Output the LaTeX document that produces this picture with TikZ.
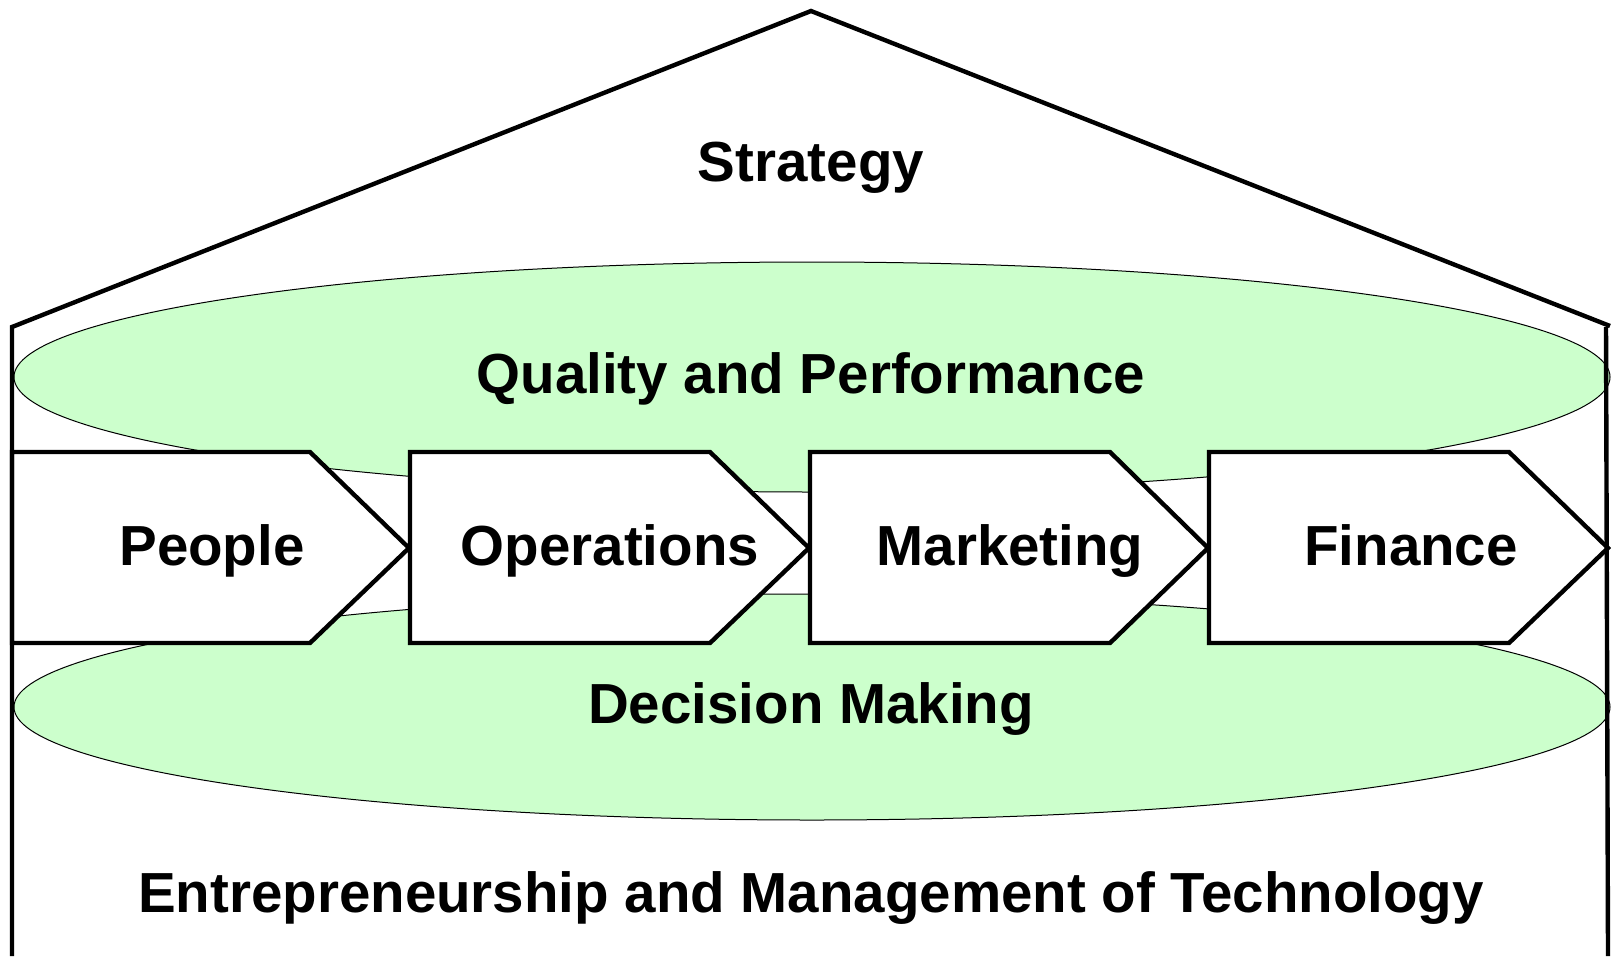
\documentclass[tikz,border=0pt]{standalone}
\usepackage{fontspec}
\setmainfont{Liberation Sans}
\definecolor{paleg}{HTML}{CCFFCC}
\begin{document}
\begin{tikzpicture}[x=1pt,y=-1pt,
  lbl/.style={font=\fontsize{56.5}{60}\selectfont\bfseries, anchor=base, inner sep=0pt},
  oval/.style={fill=paleg, draw=black, line width=1pt},
  chev/.style={fill=white, draw=black, line width=4.4pt, line join=miter},
  wall/.style={draw=black, line width=4.4pt, line join=miter}]
\useasboundingbox (0,0) rectangle (1611,956);
% ellipses
\path[oval] (812,377) ellipse [x radius=798, y radius=115];
\path[oval] (812,707) ellipse [x radius=798, y radius=113];
% chevrons
\path[chev] (12,452) -- (310,452) -- (409,548) -- (310,643) -- (12,643) -- cycle;
\path[chev] (410,452) -- (710,452) -- (809,548) -- (710,643) -- (410,643) -- cycle;
\path[chev] (810,452) -- (1110,452) -- (1208,548) -- (1110,643) -- (810,643) -- cycle;
\path[chev] (1209,452) -- (1509,452) -- (1608,548) -- (1509,643) -- (1209,643) -- cycle;
% house outline
\path[wall] (12,956) -- (12,327) -- (811,11) -- (1610,326);
\path[wall] (1606,327) -- (1608,956);
% labels
\node[lbl] (strategy) at (811,181) {Strategy};
\node[lbl] (quality) at (811,393) {Quality and Performance};
\node[lbl] (people) at (212,565) {People};
\node[lbl] (operations) at (610,565) {Operations};
\node[lbl] (marketing) at (1010,565) {Marketing};
\node[lbl] (finance) at (1411,565) {Finance};
\node[lbl] (decision) at (811,723) {Decision Making};
\node[lbl] (entre) at (811,912) {Entrepreneurship and Management of Technology};
\end{tikzpicture}
\end{document}
